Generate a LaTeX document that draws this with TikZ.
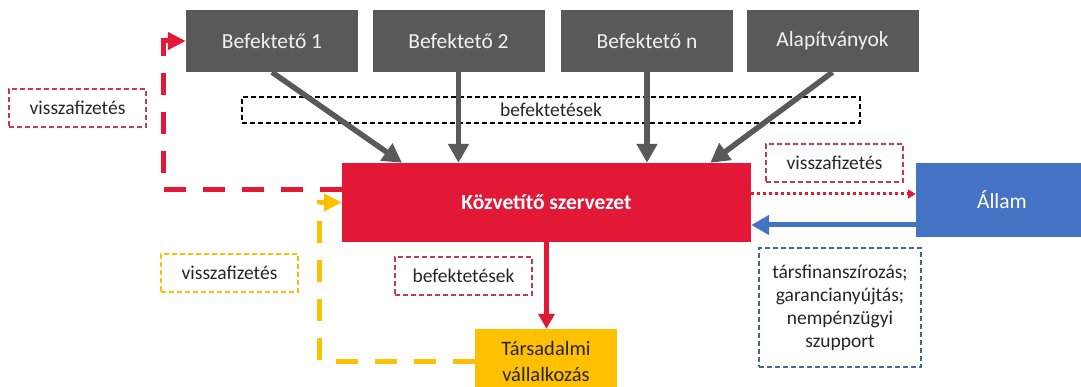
\documentclass[tikz,border=0pt]{standalone}
\usepackage{fontspec}
\setmainfont{Carlito}
\usetikzlibrary{arrows.meta,calc}
\definecolor{gboxc}{HTML}{595959}
\definecolor{redc}{HTML}{E31837}
\definecolor{bluec}{HTML}{4472C4}
\definecolor{yelc}{HTML}{FFC000}
\definecolor{labred}{HTML}{C0385A}
\definecolor{labblue}{HTML}{41699C}
\definecolor{txt}{HTML}{262626}
\begin{document}
\begin{tikzpicture}[x=1pt,y=-1pt,
  bigfont/.style={font=\fontsize{21.5}{25}\selectfont},
  labfont/.style={font=\fontsize{19.5}{23}\selectfont},
  gbox/.style={fill=gboxc, text=white!95!black, bigfont, minimum width=172pt, minimum height=62pt, inner sep=0pt},
  kbox/.style={fill=redc, text=white, font=\fontsize{21.5}{25}\selectfont\bfseries, minimum width=409pt, minimum height=79pt, inner sep=0pt},
  abox/.style={fill=bluec, text=white, bigfont, minimum width=165pt, minimum height=74pt, inner sep=0pt},
  tbox/.style={fill=yelc, text=txt, font=\fontsize{20.5}{26}\selectfont, minimum width=142pt, minimum height=64pt, inner sep=0pt, align=center},
  lab/.style={labfont, text=txt, line width=1.1pt, dash pattern=on 5pt off 3pt, inner sep=0pt, align=center},
  grarrow/.style={draw=gboxc, line width=5.5pt, -{Triangle[length=19pt,width=20pt]}},
  dashconn/.style={line width=5pt, dash pattern=on 22pt off 17pt, -{Triangle[length=18pt,width=17pt]}}
]
\useasboundingbox (0,0) rectangle (1081,387);

% boxes
\node[gbox] (b1) at (272,41) {Befektető 1};
\node[gbox] (b2) at (458.5,41) {Befektető 2};
\node[gbox] (bn) at (647,41) {Befektető n};
\node[gbox] (al) at (832.5,41) {Alapítványok};
\node[kbox] (kv) at (546.5,202.5) {Közvetítő szervezet};
\node[abox] (st) at (998.5,200) {};
\node[text=white, bigfont] (stt) at (1002,200) {Állam};
\node[tbox] (ts) at (546,361) {Társadalmi\\vállalkozás};

% dashed labels
\node[lab, draw=labred, minimum width=137pt, minimum height=38pt] (vf1) at (77.5,108) {visszafizetés};
\node[lab, draw=black, minimum width=618pt, minimum height=26pt] (bef1) at (551,110) {befektetések};
\node[lab, draw=labred, minimum width=137pt, minimum height=38pt] (vf2) at (834.5,163) {visszafizetés};
\node[lab, draw=yelc, minimum width=137pt, minimum height=38pt] (vf3) at (229.5,273) {visszafizetés};
\node[lab, draw=labred, minimum width=137pt, minimum height=38pt] (bef2) at (463.5,276) {befektetések};
\node[lab, draw=labblue, minimum width=162pt, minimum height=119pt] (tf) at (840,307.5) {társfinanszírozás;\\garancianyújtás;\\nempénzügyi\\szupport};

% gray arrows
\draw[grarrow] (b1.south) -- ($(kv.north west)!0.147!(kv.north east)$);
\draw[grarrow] (b2.south) -- (b2.south |- kv.north);
\draw[grarrow] (bn.south) -- (bn.south |- kv.north);
\draw[grarrow] (al.south) -- ($(kv.north west)!0.90!(kv.north east)$);

% red dashed return to investor 1
\coordinate (r0) at ($(kv.west)+(0,-12.5)$);
\coordinate (r1) at ($(b1.west)+(-22,0)$);
\draw[dashconn, draw=redc] (r0) -| (r1) -- (b1.west);

% yellow dashed return
\coordinate (y1) at ($(kv.west)+(-22,0)$);
\draw[dashconn, draw=yelc] (ts.west) -| (y1) -- (kv.west);

% dotted red to state
\coordinate (d1) at ($(kv.east)+(0,-8.5)$);
\draw[draw=redc, line width=3pt, dash pattern=on 3pt off 3pt, -{Triangle[length=8pt,width=9pt]}] (d1) -- (d1 -| st.west);

% blue from state
\coordinate (bl) at ($(st.west)+(0,25)$);
\draw[draw=bluec, line width=5pt, -{Triangle[length=18pt,width=19pt]}] (bl) -- (bl -| kv.east);

% red down to social enterprise
\draw[draw=redc, line width=4.5pt, -{Triangle[length=15pt,width=16pt]}] (kv.south) -- (kv.south |- ts.north);
\end{tikzpicture}
\end{document}
